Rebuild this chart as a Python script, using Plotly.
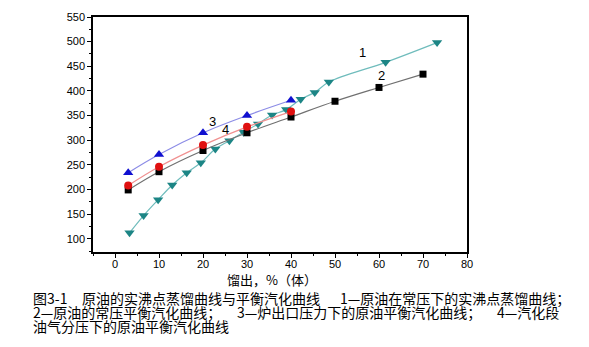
import plotly.graph_objects as go

# Curve 1: true boiling point distillation curve at atmospheric pressure
x1 = [3.3, 6.5, 9.8, 13.0, 16.3, 19.5, 22.8, 26.0, 29.2, 32.5, 35.7, 38.9, 42.2, 45.4, 48.6, 61.5, 73.2]
y1 = [112, 147, 179, 209, 234, 254, 282, 299, 316, 333, 351, 362, 383, 397, 418, 458, 498]
# Curve 2: equilibrium flash vaporization curve at atmospheric pressure
x2 = [3, 10, 20, 30, 40, 50, 60, 70]
y2 = [199, 236, 279, 315, 347, 379, 407, 434]
# Curve 3: EFV curve at furnace outlet pressure
x3 = [3, 10, 20, 30, 40]
y3 = [234, 271, 315, 350, 381]
# Curve 4: EFV curve at oil-gas partial pressure in flash zone
x4 = [3, 10, 20, 30, 40]
y4 = [208, 246, 290, 327, 358]

curve_labels = ["1", "2", "3", "4"]
label_x = [56.2, 60.5, 22.2, 25.2]
label_y = [478, 432, 338, 321]

x_title = "馏出，%（体）"
caption_segments = [
    # (text, left pixel, line index)
    ("图3-1", 31, 0),
    ("原油的实沸点蒸馏曲线与平衡汽化曲线", 80, 0),
    ("1—原油在常压下的实沸点蒸馏曲线；", 338, 0),
    ("2—原油的常压平衡汽化曲线；", 31, 1),
    ("3—炉出口压力下的原油平衡汽化曲线；", 235, 1),
    ("4—汽化段", 495, 1),
    ("油气分压下的原油平衡汽化曲线", 31, 2),
]
line_y = [298, 312, 326]

fig = go.Figure()
fig.add_trace(go.Scatter(x=x1, y=y1, mode="lines+markers", line=dict(color="#6fbcbc", width=1.2, shape="spline"),
                         marker=dict(symbol="triangle-down", color="#1c8585", size=9)))
fig.add_trace(go.Scatter(x=x2, y=y2, mode="lines+markers", line=dict(color="#707070", width=1.2, shape="spline"),
                         marker=dict(symbol="square", color="#000000", size=7)))
fig.add_trace(go.Scatter(x=x3, y=y3, mode="lines+markers", line=dict(color="#8c8ce6", width=1.2, shape="spline"),
                         marker=dict(symbol="triangle-up", color="#1010d0", size=9)))
fig.add_trace(go.Scatter(x=x4, y=y4, mode="lines+markers", line=dict(color="#f09090", width=1.2, shape="spline"),
                         marker=dict(symbol="circle", color="#e01010", size=8)))

for t, lx, ly in zip(curve_labels, label_x, label_y):
    fig.add_annotation(x=lx, y=ly, text=t, showarrow=False, xref="x", yref="y",
                       font=dict(family="Liberation Sans", size=13, color="black"))

W, H = 589, 347
ML, MR, MT, MB = 93, 122, 17, 95
pw, ph = W - ML - MR, H - MT - MB

def px(xp, yp):
    return (xp - ML) / pw, (H - MB - yp) / ph

fig.update_layout(
    width=W, height=H,
    margin=dict(l=ML, r=MR, t=MT, b=MB),
    plot_bgcolor="white", paper_bgcolor="white",
    showlegend=False,
    xaxis=dict(range=[-5, 80], dtick=10, showgrid=False, zeroline=False,
               showline=True, linecolor="black", linewidth=1.5, mirror=True,
               ticks="outside", ticklen=4, tickcolor="black", ticklabelstandoff=-3,
               minor=dict(dtick=5, ticks="outside", ticklen=2, tickcolor="black"),
               tickfont=dict(family="Liberation Sans", size=11, color="black")),
    yaxis=dict(range=[73, 550], tick0=100, dtick=50, showgrid=False, zeroline=False,
               showline=True, linecolor="black", linewidth=1.5, mirror=True,
               ticks="outside", ticklen=4, tickcolor="black",
               minor=dict(dtick=25, ticks="outside", ticklen=2, tickcolor="black"),
               tickfont=dict(family="Liberation Sans", size=11, color="black")),
)

ax, ay = px(272, 279)
fig.add_annotation(x=ax, y=ay, xref="paper", yref="paper", text=x_title, showarrow=False,
                   xanchor="center", yanchor="middle",
                   font=dict(family="Noto Sans CJK SC", size=13, color="black"))

for text, left, li in caption_segments:
    cx, cy = px(left, line_y[li])
    fig.add_annotation(x=cx, y=cy, xref="paper", yref="paper", text=text, showarrow=False,
                       xanchor="left", yanchor="middle",
                       font=dict(family="Noto Sans CJK SC", size=14, color="black"))

fig.write_html("out.html")
